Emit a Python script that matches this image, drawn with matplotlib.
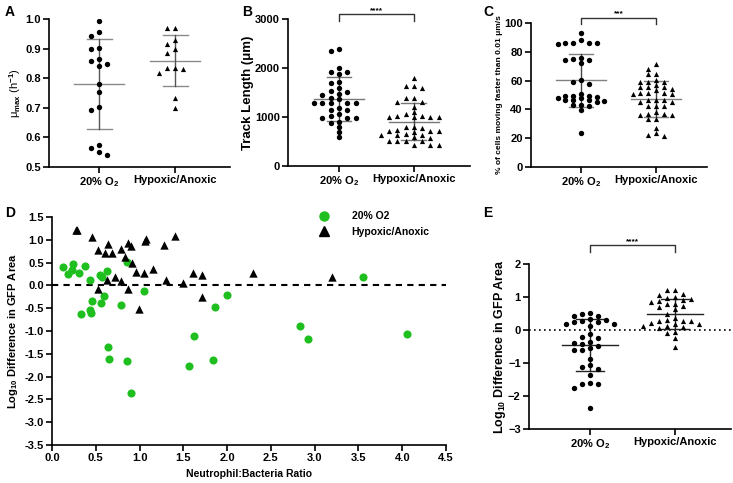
import numpy as np
import matplotlib
matplotlib.use('Agg')
import matplotlib.pyplot as plt
from matplotlib.lines import Line2D

plt.rcParams['font.family'] = ['Liberation Sans', 'DejaVu Sans']
plt.rcParams['font.weight'] = 'bold'
plt.rcParams['axes.labelweight'] = 'bold'
plt.rcParams['mathtext.fontset'] = 'custom'
plt.rcParams['mathtext.rm'] = 'Liberation Sans'
plt.rcParams['mathtext.it'] = 'Liberation Sans:italic'
plt.rcParams['mathtext.bf'] = 'Liberation Sans:bold'

groups = [r'20% O$_\mathbf{2}$', 'Hypoxic/Anoxic']
legend_labels = ['20% O2', 'Hypoxic/Anoxic']

# Panel A: growth rate
A_o2 = [0.993, 0.957, 0.943, 0.903, 0.898, 0.866, 0.858, 0.847, 0.840, 0.782,
        0.753, 0.702, 0.692, 0.576, 0.563, 0.551, 0.542]
A_hyp = [0.968, 0.970, 0.930, 0.915, 0.898, 0.884, 0.834, 0.836, 0.832, 0.816,
         0.733, 0.699]

# Panel B: track length
B_o2 = [2394, 2347, 2006, 1925, 1925, 1878, 1720, 1688, 1585, 1537, 1504, 1463,
        1449, 1394, 1361, 1292, 1292, 1285, 1292, 1292, 1177, 1143, 1143, 1061,
        1014, 986, 986, 986, 905, 871, 803, 701, 599]
B_hyp = [1802, 1639, 1639, 1598, 1381, 1381, 1313, 1313, 1211, 1109, 1055, 1020,
         1020, 994, 994, 994, 994, 803, 803, 782, 735, 714, 714, 714, 701, 647,
         633, 633, 633, 585, 565, 517, 517, 517, 517, 429, 429, 429]

# Panel C: % cells moving
C_o2 = [93.1, 88.0, 86.4, 86.2, 85.8, 85.8, 85.1, 76.0, 75.3, 74.6, 74.1, 72.3,
        60.3, 58.9, 57.5, 51.0, 49.6, 49.6, 49.6, 48.6, 47.7, 47.7, 46.4, 46.4,
        46.4, 45.9, 45.4, 43.1, 43.1, 42.7, 39.9, 23.6]
C_hyp = [71.2, 68.4, 64.9, 64.9, 60.7, 59.1, 59.1, 59.1, 56.8, 55.6, 55.6, 55.6,
         54.5, 53.3, 51.4, 51.4, 51.4, 50.5, 50.5, 46.4, 46.4, 46.4, 45.0, 45.0,
         42.2, 42.2, 42.2, 38.2, 37.1, 37.1, 36.4, 35.9, 33.4, 33.4, 27.4, 23.6,
         22.0, 21.3]

# Panel D / E: neutrophil:bacteria ratio vs log10 GFP area difference
D_o2_x = [0.125, 0.18, 0.24, 0.23, 0.31, 0.38, 0.335, 0.43, 0.43, 0.445, 0.46,
          0.55, 0.56, 0.59, 0.57, 0.63, 0.64, 0.65, 0.79, 0.855, 0.855, 0.905,
          1.05, 1.57, 1.62, 1.84, 1.86, 2.0, 3.55, 2.83, 2.92, 4.05]
D_o2_y = [0.41, 0.25, 0.47, 0.34, 0.27, 0.43, -0.62, 0.12, -0.55, -0.61, -0.35,
          0.23, -0.38, -0.23, 0.19, 0.31, -1.36, -1.62, -0.42, 0.52, -1.65, -2.36,
          -0.12, -1.77, -1.12, -1.64, -0.48, -0.22, 0.18, -0.88, -1.18, -1.06]
D_hyp_x = [0.27, 0.29, 0.46, 0.525, 0.635, 0.61, 0.68, 0.63, 0.525, 0.72, 0.79,
           0.83, 0.79, 0.87, 0.90, 0.865, 0.91, 0.96, 0.99, 1.05, 1.06, 1.07,
           1.15, 1.28, 1.30, 1.40, 1.50, 1.61, 1.71, 1.71, 2.30, 3.20]
D_hyp_y = [1.22, 1.21, 1.07, 0.78, 0.90, 0.71, 0.72, 0.12, -0.08, 0.18, 0.80,
           0.63, 0.10, 0.93, 0.86, -0.07, 0.50, 0.30, -0.51, 0.27, 0.98, 1.01,
           0.36, 0.88, 0.12, 1.08, 0.05, 0.27, 0.22, -0.25, 0.27, 0.18]

W, H = 733, 483
fig = plt.figure(figsize=(W / 100, H / 100), dpi=100)


def add_ax(left, top, right, bottom):
    return fig.add_axes([left / W, 1 - bottom / H, (right - left) / W, (bottom - top) / H])


def style(ax, ls=8):
    for s in ['top', 'right']:
        ax.spines[s].set_visible(False)
    for s in ['left', 'bottom']:
        ax.spines[s].set_linewidth(1.2)
    ax.tick_params(direction='out', length=4, width=1.2, labelsize=ls, pad=2)


def boldticks(ax):
    for t in ax.get_xticklabels() + ax.get_yticklabels():
        t.set_fontweight('bold')


def swarm(ax, vals, center, col_px, min_dy):
    vals = np.asarray(vals, dtype=float)
    tr = ax.transData
    ys = tr.transform(np.column_stack([np.zeros(len(vals)), vals]))[:, 1]
    xpx = tr.transform([[1, 0]])[0, 0] - tr.transform([[0, 0]])[0, 0]
    order = np.argsort(-vals, kind='stable')
    placed = []
    cols = np.zeros(len(vals))
    cand = [0, -1, 1, -2, 2, -3, 3, -4, 4, -5, 5, -6, 6]
    for i in order:
        for c in cand:
            ok = True
            for pc, py in placed:
                if pc == c and abs(py - ys[i]) < min_dy:
                    ok = False
                    break
            if ok:
                cols[i] = c
                placed.append((c, ys[i]))
                break
    return center + cols * col_px / xpx


def meansd(ax, vals, center, col_h, col_v, lw=1.0):
    m = np.mean(vals)
    s = np.std(vals, ddof=1)
    ax.plot([center - 0.33, center + 0.33], [m, m], color=col_h, lw=lw, zorder=2)
    ax.plot([center - 0.165, center + 0.165], [m + s, m + s], color=col_h, lw=lw, zorder=2)
    ax.plot([center - 0.165, center + 0.165], [m - s, m - s], color=col_h, lw=lw, zorder=2)
    ax.plot([center, center], [m - s, m + s], color=col_v, lw=lw, zorder=2)


def cat_panel(ax, d0, d1, col_px, min_dy, col_h, col_v, ms_c=15, ms_t=14):
    x0 = swarm(ax, d0, 0, col_px, min_dy)
    x1 = swarm(ax, d1, 1, col_px, min_dy)
    ax.scatter(x0, d0, s=ms_c, marker='o', color='black', linewidths=0, zorder=3)
    ax.scatter(x1, d1, s=ms_t, marker='^', color='black', linewidths=0, zorder=3)
    meansd(ax, d0, 0, col_h, col_v)
    meansd(ax, d1, 1, col_h, col_v)
    ax.set_xticks([0, 1])
    ax.set_xticklabels(groups)


def bracket(ax, y_line, y_leg, text, fs=6):
    ax.plot([0, 0, 1, 1], [y_leg, y_line, y_line, y_leg], color='#333333', lw=1.0,
            clip_on=False)
    ax.text(0.5, y_line, text, ha='center', va='bottom', fontsize=fs, clip_on=False)


# ---- Panel A ----
axA = add_ax(49, 19, 230, 167)
axA.set_xlim(-0.658, 1.72)
axA.set_ylim(0.5, 1.0)
axA.set_yticks(np.arange(0.5, 1.01, 0.1))
axA.yaxis.set_major_formatter(matplotlib.ticker.FormatStrFormatter('%.1f'))
style(axA)
cat_panel(axA, A_o2, A_hyp, 8, 7, '#8a8a8a', '#555555')
axA.set_ylabel('\u03bc$_{\\mathrm{max}}$ (h$^{-1}$)', fontsize=8, fontweight='normal')
axA.yaxis.set_label_coords(-0.145, 0.5)
boldticks(axA)

# ---- Panel B ----
axB = add_ax(288, 19, 470, 166)
axB.set_xlim(-0.68, 1.75)
axB.set_ylim(0, 3000)
axB.set_yticks([0, 1000, 2000, 3000])
style(axB)
cat_panel(axB, B_o2, B_hyp, 8.3, 4.5, '#777777', '#444444')
axB.set_ylabel('Track Length (\u03bcm)', fontsize=9.5)
axB.yaxis.set_label_coords(-0.185, 0.5)
bracket(axB, 3100, 2950, '****')
boldticks(axB)

# ---- Panel C ----
axC = add_ax(531, 23, 707, 167)
axC.set_xlim(-0.667, 1.68)
axC.set_ylim(0, 100)
axC.set_yticks([0, 20, 40, 60, 80, 100])
style(axC)
cat_panel(axC, C_o2, C_hyp, 7.8, 4.5, '#808080', '#444444')
axC.set_ylabel('% of cells moving faster than 0.01 \u03bcm/s', fontsize=6)
axC.yaxis.set_label_coords(-0.16, 0.5)
bracket(axC, 103.8, 99.6, '***')
boldticks(axC)

# ---- Panel D ----
axD = add_ax(52, 217, 446, 445)
axD.set_xlim(0, 4.5)
axD.set_ylim(-3.5, 1.5)
axD.set_xticks(np.arange(0, 4.51, 0.5))
axD.set_yticks(np.arange(-3.5, 1.51, 0.5))
axD.xaxis.set_major_formatter(matplotlib.ticker.FormatStrFormatter('%.1f'))
axD.yaxis.set_major_formatter(matplotlib.ticker.FormatStrFormatter('%.1f'))
style(axD)
axD.plot([0, 4.5], [0, 0], color='black', lw=1.5, dashes=(3, 2.5), zorder=1)
axD.scatter(D_o2_x, D_o2_y, s=34, marker='o', color='#1fbf1f', linewidths=0, zorder=2)
axD.scatter(D_hyp_x, D_hyp_y, s=36, marker='^', color='black', linewidths=0, zorder=3)
axD.set_xlabel('Neutrophil:Bacteria Ratio', fontsize=7.5)
axD.set_ylabel(r'Log$_{\mathbf{10}}$ Difference in GFP Area', fontsize=8)
axD.yaxis.set_label_coords(-0.082, 0.5)
handles = [Line2D([], [], ls='none', marker='o', color='#1fbf1f', markersize=6.5),
           Line2D([], [], ls='none', marker='^', color='black', markersize=6.5)]
axD.legend(handles, legend_labels, loc='upper left', bbox_to_anchor=(0.665, 1.025),
           frameon=False, fontsize=7.5, handletextpad=1.6, labelspacing=0.55,
           borderpad=0, borderaxespad=0)
boldticks(axD)

# ---- Panel E ----
axE = add_ax(529, 264, 731, 429)
axE.set_xlim(-0.72, 1.66)
axE.set_ylim(-3, 2)
axE.set_yticks([-3, -2, -1, 0, 1, 2])
style(axE, ls=8)
axE.axhline(0, color='black', lw=1.2, ls=(0, (1, 2)), zorder=1)
cat_panel(axE, D_o2_y, D_hyp_y, 8, 5.5, '#222222', '#222222')
axE.set_ylabel(r'Log$_{\mathbf{10}}$ Difference in GFP Area', fontsize=9)
axE.yaxis.set_label_coords(-0.105, 0.5)
bracket(axE, 2.58, 2.35, '****')
boldticks(axE)

# panel letters
for lab, x, y in [('A', 5, 12), ('B', 242, 12), ('C', 483, 12), ('D', 5, 213), ('E', 483, 213)]:
    fig.text(x / W, 1 - y / H, lab, fontsize=10, fontweight='bold', va='center', ha='left')

fig.savefig('out.png', dpi=100)
